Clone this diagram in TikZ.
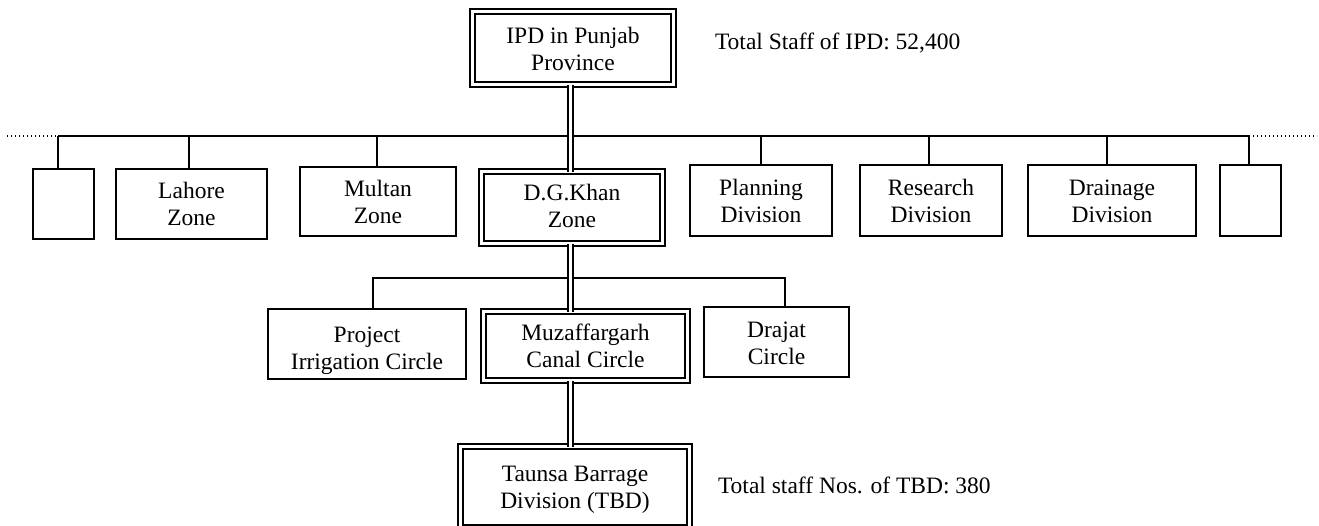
\documentclass[tikz,border=0pt]{standalone}
\usepackage{fontspec}
\setmainfont{Liberation Serif}
% two-line box label, lowered by #1 inside its box
\newcommand{\boxlabel}[2][3pt]{\raisebox{-#1}[\height][\depth]{\begin{tabular}{@{}c@{}}#2\end{tabular}}}
\begin{document}
\begin{tikzpicture}[x=1pt,y=-1pt,
  every node/.style={font=\fontsize{23.5}{27}\selectfont, inner sep=0pt, outer sep=0pt},
  unit/.style={draw, line width=1.8pt, minimum width=#1},
  mainunit/.style={draw, double, line width=2.2pt, double distance=2.6pt, minimum width=#1},
  link/.style={line width=1.8pt},
  mainlink/.style={draw, double, line width=2pt, double distance=2.4pt},
  more/.style={line width=1.3pt, dash pattern=on 1.4pt off 2.6pt},
  note/.style={anchor=west}]
\clip (0,0) rectangle (1319,525);
\fill[white] (0,0) rectangle (1319,525);

% head office
\node[mainunit=201pt, minimum height=73pt] (ipd) at (573,48) {\boxlabel[4pt]{IPD in Punjab\\Province}};
\node[note] (ipdstaff) at (715,43) {Total Staff of IPD: 52,400};

% zones and divisions
\node[unit=61.2pt, minimum height=70.2pt] (z0) at (63.5,204) {};
\node[unit=151.2pt, minimum height=70.2pt] (lhr) at (191.5,204) {\boxlabel{Lahore\\Zone}};
\node[unit=156.2pt, minimum height=69.2pt] (mlt) at (378,201.5) {\boxlabel{Multan\\Zone}};
\node[mainunit=181pt, minimum height=72pt] (dgk) at (572,207.5) {\boxlabel[1pt]{D.G.Khan\\Zone}};
\node[unit=142.2pt, minimum height=71.2pt] (pln) at (761,200.5) {\boxlabel{Planning\\Division}};
\node[unit=142.2pt, minimum height=71.2pt] (res) at (931,200.5) {\boxlabel{Research\\Division}};
\node[unit=168.2pt, minimum height=71.2pt] (drn) at (1112,200.5) {\boxlabel{Drainage\\Division}};
\node[unit=61.2pt, minimum height=71.2pt] (z7) at (1250.5,200.5) {};

% circles
\node[unit=198.2pt, minimum height=70.2pt] (pic) at (367,344) {\boxlabel[7pt]{Project\\Irrigation Circle}};
\node[mainunit=204pt, minimum height=69pt] (mcc) at (585.5,346) {\boxlabel[3pt]{Muzaffargarh\\Canal Circle}};
\node[unit=145.2pt, minimum height=70.2pt] (drj) at (776.5,342) {\boxlabel[4pt]{Drajat\\Circle}};

% barrage division
\node[mainunit=229pt, minimum height=80.5pt] (tbd) at (575,486.75) {\boxlabel[3pt]{Taunsa Barrage\\Division (TBD)}};
\node[note] (tbdstaff) at (718,485) {Total staff Nos. of TBD: 380};

% zone bus
\coordinate (busL) at (7,136);
\coordinate (busR) at (1317,136);
\coordinate (s0) at ([xshift=-5.5pt]z0.north);
\coordinate (s7) at ([xshift=-1.5pt]z7.north);
\draw[more] (busL) -- (s0 |- busL) -- ++(13,0);
\draw[more] (s7 |- busR) -- (busR);
\draw[link] (s0 |- busL) -- (s7 |- busR);
\draw[link] (s0) -- (s0 |- busL);
\draw[link] ([xshift=-2.5pt]lhr.north) -- ([xshift=-2.5pt]lhr.north |- busL);
\draw[link] ([xshift=-1pt]mlt.north) -- ([xshift=-1pt]mlt.north |- busL);
\draw[link] (pln.north) -- (pln.north |- busL);
\draw[link] ([xshift=-2pt]res.north) -- ([xshift=-2pt]res.north |- busL);
\draw[link] ([xshift=-5pt]drn.north) -- ([xshift=-5pt]drn.north |- busL);
\draw[link] (s7) -- (s7 |- busR);

% circle bus
\coordinate (c0) at ([xshift=6pt]pic.north);
\coordinate (c2) at ([xshift=8.5pt]drj.north);
\coordinate (cbus) at (0,278);
\draw[link] (c0) -- (c0 |- cbus) -- (c2 |- cbus) -- (c2);

% main line of command
\draw[mainlink] ([xshift=-1.5pt]dgk.north |- ipd.south) -- ([xshift=-1.5pt]dgk.north);
\draw[mainlink] ([xshift=-1.5pt]dgk.south) -- ([xshift=-1.5pt]dgk.south |- mcc.north);
\draw[mainlink] ([xshift=-1.5pt]dgk.south |- mcc.south) -- ([xshift=-1.5pt]dgk.south |- tbd.north);
\end{tikzpicture}
\end{document}
